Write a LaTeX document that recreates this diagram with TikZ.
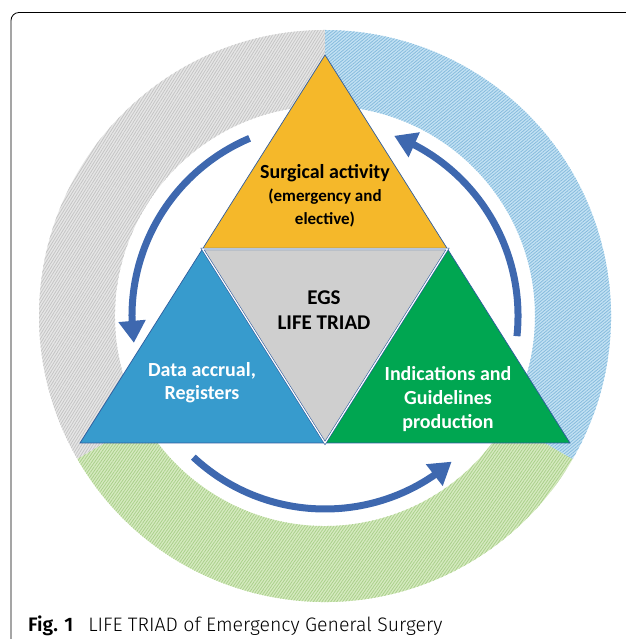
\documentclass[tikz,border=0pt]{standalone}
\usepackage{fontspec}
\setmainfont{Carlito}
\newfontfamily\capfont[UprightFont={* Light},BoldFont={* SemiBold}]{Fira Sans}
\usetikzlibrary{arrows.meta,bending,patterns.meta}
\definecolor{yellowtri}{HTML}{F5B82A}
\definecolor{bluetri}{HTML}{379BCD}
\definecolor{greentri}{HTML}{00A651}
\definecolor{graytri}{HTML}{CFCFCF}
\definecolor{edgeblue}{HTML}{2F5C9E}
\definecolor{arrowblue}{HTML}{3E68AF}
\definecolor{ringgray}{HTML}{E6E6E6}
\definecolor{ringgraydk}{HTML}{C4C4C4}
\definecolor{ringblue}{HTML}{C2E1F3}
\definecolor{ringbluedk}{HTML}{86BBDD}
\definecolor{ringgreen}{HTML}{D6EAC0}
\definecolor{ringgreendk}{HTML}{A9D08A}
\begin{document}
\begin{tikzpicture}[x=1pt,y=1pt,
  ringpart/.style n args={3}{fill=#1, postaction={pattern={Lines[angle=#3,distance=2.4pt,line width=0.8pt]}, pattern color=#2}},
  cyclearrow/.style={line width=7pt, arrowblue, -{Triangle[width=26pt,length=22pt]}},
  triadtext/.style={align=center, font=\bfseries\fontsize{20}{24}\selectfont}]

\useasboundingbox (0,0) rectangle (625,639);
\coordinate (O) at (325,323);

% frame
\draw [black, line width=0.8pt, rounded corners=8pt] (11,-5) -- (11,626.5) -- (632,626.5);

% ring
\fill [ringpart={ringgray}{ringgraydk}{58}] (O) ++(90:286) arc[start angle=90, end angle=210, radius=286] -- ++(30:76) arc[start angle=210, end angle=90, radius=210] -- cycle;
\fill [ringpart={ringgreen}{ringgreendk}{55}] (O) ++(210:286) arc[start angle=210, end angle=330, radius=286] -- ++(150:76) arc[start angle=330, end angle=210, radius=210] -- cycle;
\fill [ringpart={ringblue}{ringbluedk}{40}] (O) ++(330:286) arc[start angle=330, end angle=450, radius=286] -- ++(270:76) arc[start angle=450, end angle=330, radius=210] -- cycle;

% arrows
\draw [cyclearrow] (O) ++(113:193) arc[start angle=113, end angle=188, radius=193];
\draw [cyclearrow] (O) ++(227:193) arc[start angle=227, end angle=311, radius=193];
\draw [cyclearrow] (O) ++(-6:193) arc[start angle=-6, end angle=69, radius=193];

% triangles
\coordinate (T) at (325,584);
\coordinate (L) at (80,196);
\coordinate (R) at (570,196);
\coordinate (ML) at (202.5,390);
\coordinate (MR) at (447.5,390);
\coordinate (MB) at (325,196);

\fill [yellowtri] (T)--(ML)--(MR)--cycle;
\fill [bluetri] (ML)--(L)--(MB)--cycle;
\fill [greentri] (MR)--(MB)--(R)--cycle;
\fill [graytri] (ML)--(MR)--(MB)--cycle;
\draw [edgeblue, line width=0.7pt] (T)--(L)--(R)--cycle;
\draw [edgeblue, line width=0.6pt, double=white, double distance=1.2pt] (ML)--(MR)--(MB)--cycle;

\node [triadtext, font=\bfseries\fontsize{17}{23}\selectfont] (surgical) at (325,443)
  {{\fontsize{20}{24}\selectfont Surgical activity}\\(emergency and\\elective)};
\node [triadtext, font=\bfseries\fontsize{21}{25}\selectfont] (egs) at (324,329) {EGS\\LIFE TRIAD};
\node [triadtext, text=white, font=\bfseries\fontsize{20}{23}\selectfont] (data) at (202,256) {Data accrual,\\Registers};
\node [triadtext, text=white] (indic) at (448,240) {Indications and\\Guidelines\\production};

% caption
\node [anchor=base west, inner sep=0pt, font=\capfont\fontsize{19.5}{22}\selectfont] (caption) at (28,7)
  {\textbf{Fig. 1}\hspace{0.5em} LIFE TRIAD of Emergency General Surgery};
\end{tikzpicture}
\end{document}
